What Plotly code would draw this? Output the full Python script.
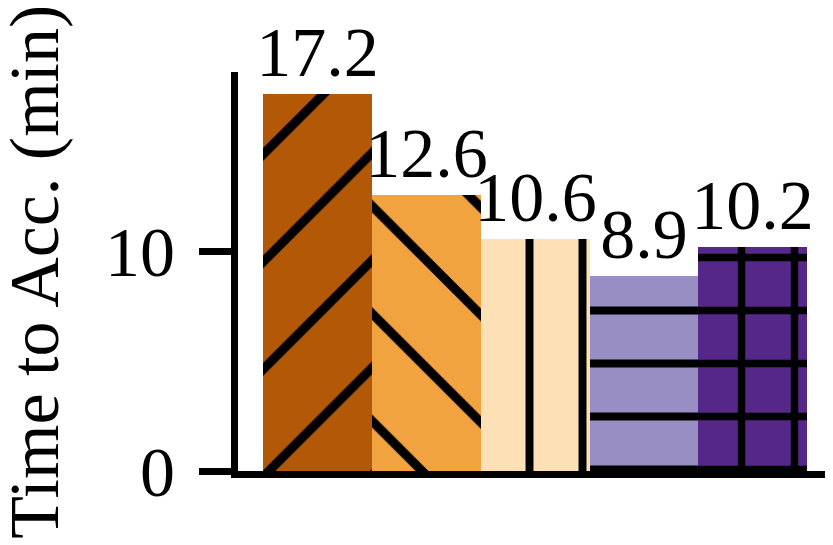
import plotly.graph_objects as go

# bars in plot order
methods = ["A", "B", "C", "D", "E"]
times = [17.2, 12.6, 10.6, 8.9, 10.2]
labels = ["17.2", "12.6", "10.6", "8.9", "10.2"]
y_title = "Time to Acc. (min)"

colors = ["#b35806", "#f1a340", "#fee0b6", "#998ec3", "#542788"]
hatches = ["/", "\\", "|", "-", "+"]
hatch_sizes = [76, 76, 53, 53, 53]
hatch_solidity = [0.12, 0.12, 0.15, 0.15, 0.26]

FONT = "Liberation Serif"

fig = go.Figure()

# one trace per bar so each keeps its own black hatch
for name, t, lab, c, h, hs, sol in zip(methods, times, labels, colors, hatches, hatch_sizes, hatch_solidity):
    fig.add_trace(
        go.Bar(
            x=[name],
            y=[t],
            text=[lab],
            textposition="outside",
            constraintext="none",
            cliponaxis=False,
            textfont=dict(family=FONT, size=70, color="black"),
            marker=dict(
                color=c,
                line=dict(width=0),
                pattern=dict(
                    shape=h,
                    size=hs,
                    solidity=sol,
                    fgcolor="black",
                    fgopacity=1,
                    fillmode="overlay",
                ),
            ),
            hoverinfo="skip",
        )
    )

fig.update_layout(
    width=833,
    height=545,
    margin=dict(l=230, r=0, t=64, b=82),
    paper_bgcolor="white",
    plot_bgcolor="white",
    barmode="overlay",
    bargap=0,
    showlegend=False,
    font=dict(family=FONT, size=70, color="black"),
)

# y title as rotated annotation (axis title standoff is ignored without automargin)
fig.add_annotation(
    text=y_title,
    xref="paper",
    yref="paper",
    x=-0.338,
    y=0.5,
    xanchor="center",
    yanchor="middle",
    textangle=-90,
    showarrow=False,
    font=dict(family=FONT, size=70, color="black"),
)

fig.update_xaxes(
    categoryorder="array",
    categoryarray=methods,
    range=[-0.73, 4.81],
    showticklabels=False,
    ticks="",
    showline=True,
    linecolor="black",
    linewidth=7,
    showgrid=False,
    zeroline=False,
    automargin=False,
)

fig.update_yaxes(
    range=[0, 18.2],
    tickvals=[0, 10],
    ticks="outside",
    ticklen=32,
    tickwidth=7,
    tickcolor="black",
    tickfont=dict(family=FONT, size=70),
    ticklabelstandoff=10,
    showline=True,
    linecolor="black",
    linewidth=7,
    showgrid=False,
    zeroline=False,
    automargin=False,
)

fig.write_html("out.html")
